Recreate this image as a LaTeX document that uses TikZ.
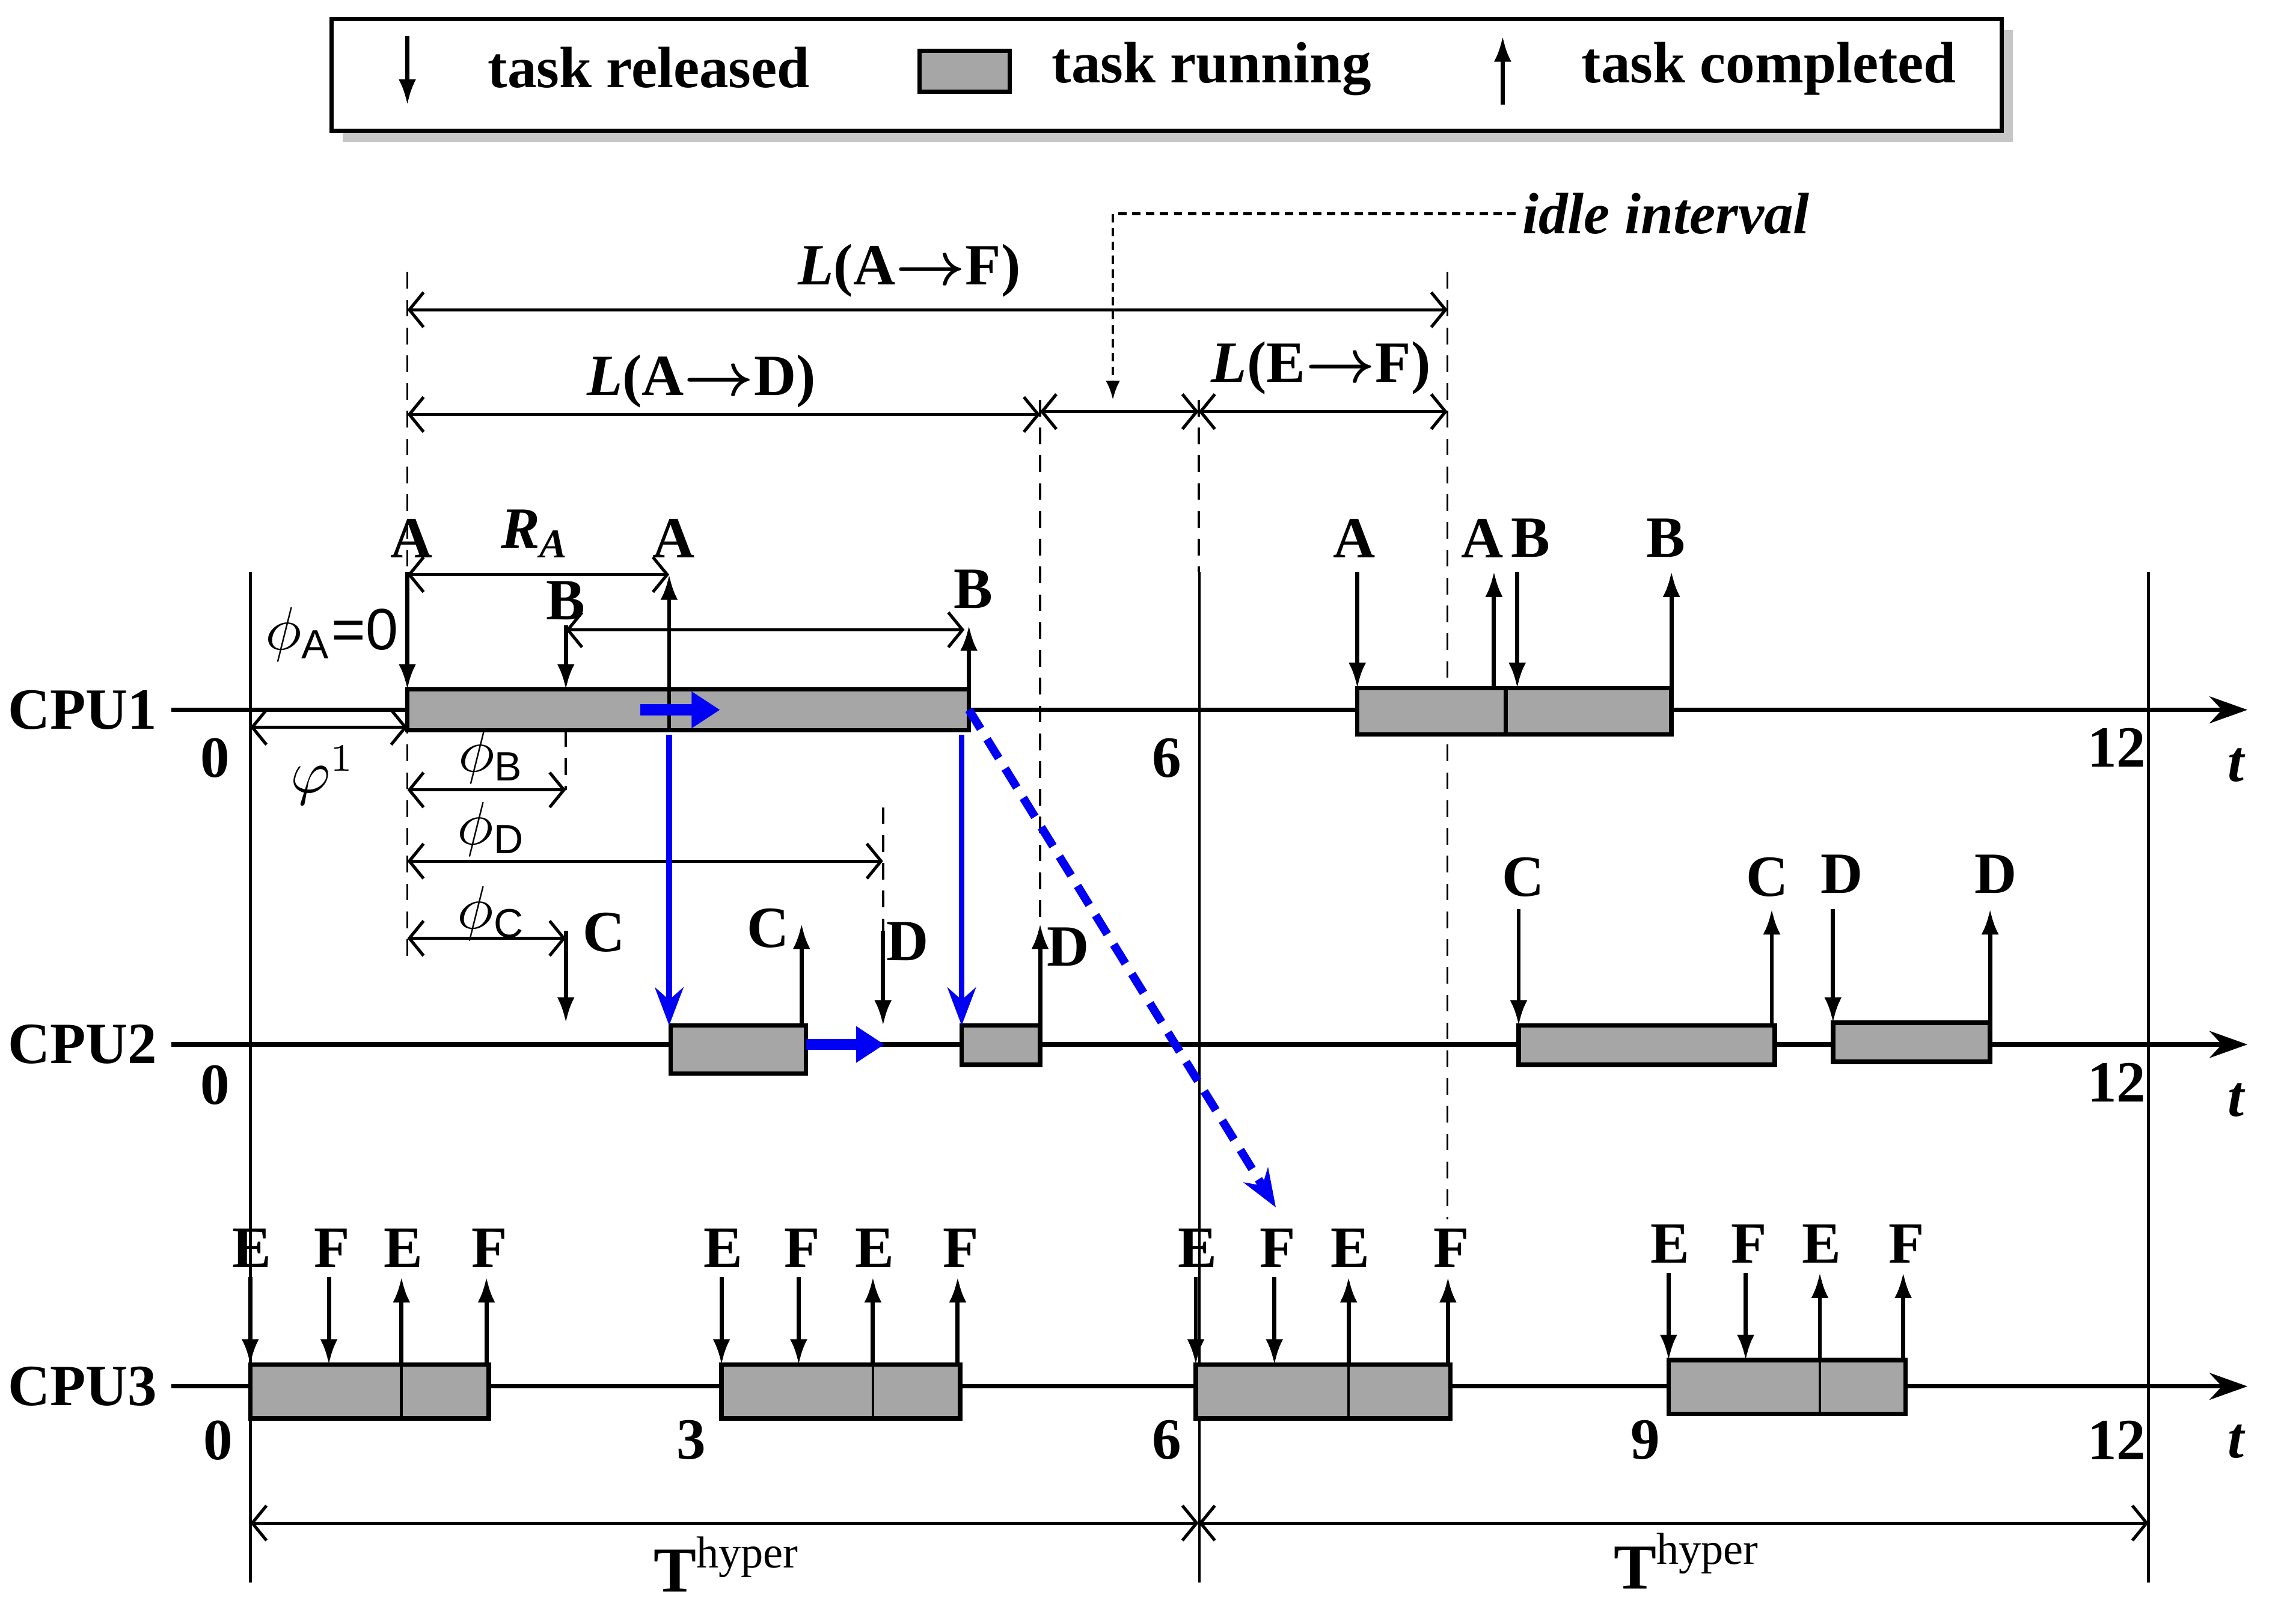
\documentclass[tikz,border=0pt]{standalone}
\usepackage{fontspec}
\setmainfont{Liberation Serif}
\newfontfamily\arialfont{Liberation Sans}
\usetikzlibrary{arrows.meta,shadows}
\definecolor{runfill}{RGB}{166,166,166}
\definecolor{msgblue}{RGB}{0,0,245}
\newcommand{\latarr}{{\boldmath$\rightarrow$}}

\begin{document}
\begin{tikzpicture}[
  lbl/.style={font=\bfseries\fontsize{10.5}{12}\selectfont, inner sep=1pt},
  phil/.style={font=\fontsize{10.5}{12}\selectfont, inner sep=1pt},
  run/.style={draw=black, line width=0.8pt, fill=runfill},
  taxis/.style={-{Stealth[length=2.4mm,width=1.7mm]}, line width=0.8pt},
  rel/.style={-{Latex[length=1.6mm,width=1.1mm]}, line width=0.75pt},
  dim/.style={{Straight Barb[length=0.9mm,width=2.2mm]}-{Straight Barb[length=0.9mm,width=2.2mm]}, line width=0.55pt},
  guide/.style={line width=0.4pt, dash pattern=on 3pt off 2pt},
  msg/.style={-{Stealth[length=2.4mm,width=1.8mm]}, msgblue, line width=1pt},
  fatmsg/.style={-{Triangle[length=1.8mm,width=2.2mm]}, msgblue, line width=2pt}
]
\useasboundingbox (-1.582,-5.775) rectangle (12.837,4.487);

% legend
\node[draw, line width=0.8pt, fill=white, minimum width=10.556cm, minimum height=0.708cm,
      drop shadow={shadow xshift=0.7mm, shadow yshift=-0.7mm, opacity=0.45}] (legend) at (5.793,4.014) {};
\coordinate (lgRelTop) at (0.993,4.257);
\coordinate (lgRelEnd) at (0.993,3.825);
\draw[rel] (lgRelTop) -- (lgRelEnd);
\node[lbl, anchor=base] (lgRel) at (2.52,3.935) {task released};
\draw[run] (4.23,4.166) rectangle (4.8,3.908);
\node[lbl, anchor=base] (lgRun) at (6.078,3.963) {task running};
\coordinate (lgDoneBot) at (7.917,3.825);
\coordinate (lgDoneTop) at (7.917,4.257);
\draw[rel] (lgDoneBot) -- (lgDoneTop);
\node[lbl, anchor=base] (lgDone) at (9.6,3.963) {task completed};

% guide lines
\draw[guide] (0.993,2.768) -- (0.993,-1.609);
\draw[guide] (7.568,2.768) -- (7.568,-3.22);
\draw[guide] (4.993,1.96) -- (4.993,-1.352);
\draw[guide] (5.995,1.96) -- (5.995,0.874);
\draw[guide] (4.0,-0.616) -- (4.0,-1.398);
\draw[guide] (1.995,-0.129) -- (1.995,-0.506);

% idle interval pointer
\node[lbl, font=\bfseries\itshape\fontsize{10.5}{12}\selectfont, anchor=west] (idle) at (8.0,3.136) {idle interval};
\coordinate (idleCorner) at (5.453,3.136);
\coordinate (idleTip) at (5.453,1.96);
\draw[line width=0.5pt, dash pattern=on 1.5pt off 1pt, -{Latex[length=1.2mm,width=0.9mm]}] (idle.west) -- (idleCorner) -- (idleTip);

% latency dimensions
\draw[dim] (0.993,2.529) -- (7.568,2.529);
\node[lbl] (lAF) at (4.166,2.777) {\textit{L}(A\latarr F)};
\draw[dim] (0.993,1.867) -- (4.993,1.867);
\node[lbl] (lAD) at (2.851,2.078) {\textit{L}(A\latarr D)};
\draw[dim] (4.993,1.885) -- (5.995,1.885);
\draw[dim] (5.995,1.885) -- (7.568,1.885);
\node[lbl] (lEF) at (6.768,2.161) {\textit{L}(E\latarr F)};

% time axes
\foreach \cpu/\y in {CPU1/0,CPU2/-2.115,CPU3/-4.276}{
  \draw[taxis] (-0.497,\y) -- (12.625,\y);
  \node[lbl] (\cpu) at (-1.06,\y) {\cpu};
  \node[lbl, font=\bfseries\itshape\fontsize{10.5}{12}\selectfont] (t\cpu) at (12.552,\y-0.35) {t};
}
\foreach \x in {0,6,12}
  \draw[line width=0.5pt] (\x,0.874) -- (\x,-5.517);

% tick labels
\node[lbl] (c1zero) at (-0.221,-0.303) {0};
\node[lbl] (c1six) at (5.793,-0.303) {6};
\node[lbl] (c1twelve) at (11.798,-0.24) {12};
\node[lbl] (c2zero) at (-0.221,-2.372) {0};
\node[lbl] (c2twelve) at (11.798,-2.354) {12};
\foreach \x/\n [count=\k] in {-0.202/0,2.786/3,5.793/6,8.818/9,11.798/12}
  \node[lbl] (c3tick\k) at (\x,-4.616) {\n};

% CPU1, first period
\draw[run] (0.993,0.129) rectangle (4.543,-0.129);
\draw[rel] (0.993,0.874) -- (0.993,0.129);
\node[lbl] (a1rel) at (1.021,1.085) {A};
\draw[rel] (2.648,-0.129) -- (2.648,0.855);
\node[lbl] (a1done) at (2.676,1.085) {A};
\draw[dim] (0.993,0.855) -- (2.648,0.855);
\node[lbl] (respA) at (1.802,1.113) {\textit{R}\textsubscript{\textit{A}}};
\draw[rel] (1.995,0.533) -- (1.995,0.129);
\node[lbl] (b1rel) at (1.995,0.69) {B};
\draw[dim] (1.995,0.506) -- (4.515,0.506);
\draw[rel] (4.543,0.129) -- (4.543,0.533);
\node[lbl] (b1done) at (4.57,0.763) {B};

% offsets
\node[phil] (phiA) at (0.515,0.478) {$\phi$\textsubscript{\arialfont A}{\arialfont =0}};
\draw[dim] (0,-0.11) -- (0.993,-0.11);
\node[phil] (phi1) at (0.46,-0.414) {$\varphi^{1}$};
\draw[dim] (0.993,-0.506) -- (1.995,-0.506);
\node[phil] (phiB) at (1.526,-0.294) {$\phi$\textsubscript{\arialfont B}};
\draw[dim] (0.993,-0.956) -- (4.0,-0.956);
\node[phil] (phiD) at (1.526,-0.754) {$\phi$\textsubscript{\arialfont D}};
\draw[dim] (0.993,-1.444) -- (1.995,-1.444);
\node[phil] (phiC) at (1.526,-1.287) {$\phi$\textsubscript{\arialfont C}};

% CPU2, first period
\draw[rel] (1.995,-1.398) -- (1.995,-1.977);
\node[lbl] (c1rel) at (2.234,-1.407) {C};
\draw[run] (2.657,-1.995) rectangle (3.513,-2.299);
\draw[rel] (3.485,-1.995) -- (3.485,-1.352);
\node[lbl] (c1done) at (3.274,-1.379) {C};
\draw[rel] (4.0,-1.398) -- (4.0,-1.995);
\node[lbl] (d1rel) at (4.156,-1.462) {D};
\draw[run] (4.497,-1.995) rectangle (4.993,-2.244);
\draw[rel] (4.993,-1.995) -- (4.993,-1.352);
\node[lbl] (d1done) at (5.168,-1.499) {D};

% CPU1, second period
\draw[run] (6.998,0.138) rectangle (7.936,-0.156);
\draw[run] (7.936,0.138) rectangle (8.984,-0.156);
\draw[rel] (6.998,0.874) -- (6.998,0.138);
\node[lbl] (a2rel) at (6.979,1.085) {A};
\draw[rel] (7.862,0.138) -- (7.862,0.874);
\node[lbl] (a2done) at (7.789,1.085) {A};
\draw[rel] (8.009,0.874) -- (8.009,0.138);
\node[lbl] (b2rel) at (8.092,1.085) {B};
\draw[rel] (8.984,0.138) -- (8.984,0.874);
\node[lbl] (b2done) at (8.947,1.085) {B};

% CPU2, second period
\draw[run] (8.018,-1.995) rectangle (9.637,-2.244);
\draw[rel] (8.018,-1.26) -- (8.018,-1.995);
\node[lbl] (c2rel) at (8.046,-1.057) {C};
\draw[rel] (9.618,-1.995) -- (9.618,-1.26);
\node[lbl] (c2done) at (9.591,-1.057) {C};
\draw[run] (10.005,-1.977) rectangle (10.998,-2.225);
\draw[rel] (10.005,-1.26) -- (10.005,-1.977);
\node[lbl] (d2rel) at (10.06,-1.039) {D};
\draw[rel] (10.998,-1.977) -- (10.998,-1.26);
\node[lbl] (d2done) at (11.034,-1.039) {D};

% CPU3
\foreach \ea/\fa/\eb/\fb/\tp [count=\k] in {0/0.497/0.956/1.508/-4.138, 2.979/3.467/3.936/4.487/-4.138, 5.977/6.474/6.943/7.586/-4.138, 8.966/9.453/9.922/10.464/-4.11}{
  \draw[run] (\ea,\tp) rectangle (\fb,\tp-0.34);
  \draw[line width=0.5pt] (\eb,\tp) -- (\eb,\tp-0.34);
  \draw[rel] (\ea,\tp+0.552) -- (\ea,\tp);
  \draw[rel] (\fa,\tp+0.552) -- (\fa,\tp);
  \draw[rel] (\eb,\tp) -- (\eb,\tp+0.552);
  \draw[rel] (\fb-0.015,\tp) -- (\fb-0.015,\tp+0.552);
  \node[lbl] (eRel\k) at (\ea+0.01,\tp+0.736) {E};
  \node[lbl] (fRel\k) at (\fa+0.02,\tp+0.736) {F};
  \node[lbl] (eDone\k) at (\eb+0.01,\tp+0.736) {E};
  \node[lbl] (fDone\k) at (\fb+0.005,\tp+0.736) {F};
}

% messages
\coordinate (aEnd) at (2.648,-0.156);
\coordinate (cStart) at (2.648,-1.995);
\coordinate (bEnd) at (4.497,-0.156);
\coordinate (dStart) at (4.497,-1.995);
\coordinate (bDone) at (4.543,0);
\coordinate (fTarget) at (6.483,-3.145);
\draw[fatmsg] (2.464,0) -- (2.97,0);
\draw[msg] (aEnd) -- (cStart);
\draw[msg] (bEnd) -- (dStart);
\draw[fatmsg] (3.513,-2.115) -- (4.009,-2.115);
\draw[msg, line width=1.5pt, dash pattern=on 4pt off 2.2pt] (bDone) -- (fTarget);

% hyperperiods
\draw[dim] (0,-5.14) -- (5.995,-5.14);
\draw[dim] (5.995,-5.14) -- (12,-5.14);
\node[lbl, font=\bfseries\fontsize{11.5}{13}\selectfont] (hyp1) at (3.016,-5.4) {T\textsuperscript{\mdseries hyper}};
\node[lbl, font=\bfseries\fontsize{11.5}{13}\selectfont] (hyp2) at (9.085,-5.38) {T\textsuperscript{\mdseries hyper}};
\end{tikzpicture}
\end{document}
